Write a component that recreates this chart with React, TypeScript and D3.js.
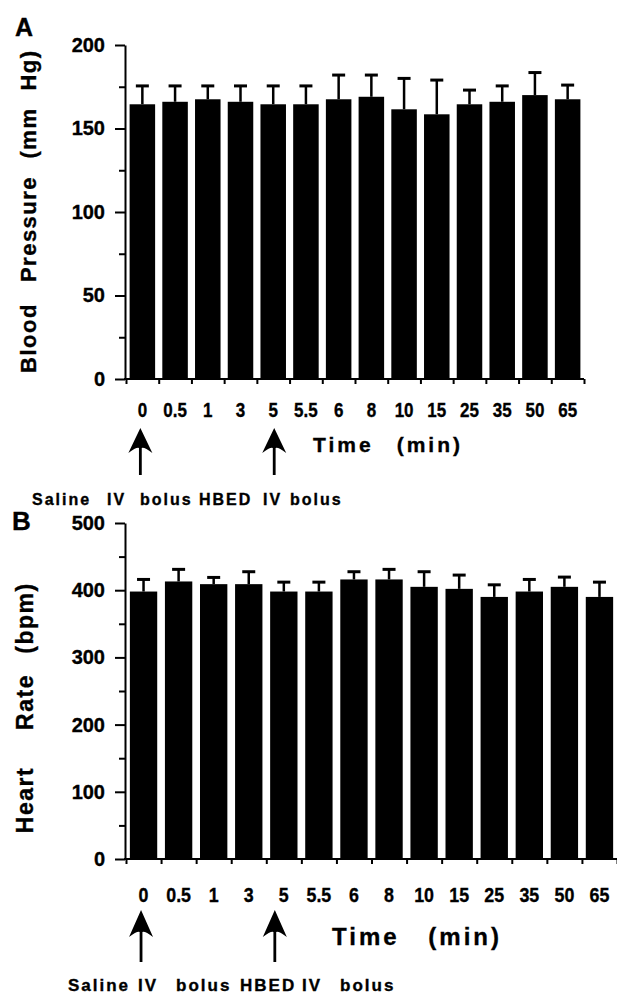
import * as d3 from 'd3'
import { useEffect, useRef } from 'react'

// time points (min) and readings
const times = ['0', '0.5', '1', '3', '5', '5.5', '6', '8', '10', '15', '25', '35', '50', '65']
const bpMean = [164.5, 166, 167.5, 166, 164.5, 164.5, 167.5, 169, 161.5, 158.5, 164.5, 166, 170, 167.5]
const bpErr = [11, 9.5, 8, 9.5, 11, 11, 14.5, 13, 18.5, 20.5, 8.5, 9.5, 13.5, 8.5]
const hrMean = [398, 413, 409, 409, 398, 398, 416, 416, 405, 402, 390, 398, 405, 390]
const hrErr = [18, 18, 10, 18.5, 14, 14, 11.5, 15, 22.5, 20.5, 18, 18, 14.5, 22]
const bpTicks = [0, 50, 100, 150, 200]
const hrTicks = [0, 100, 200, 300, 400, 500]
const noteWords = ['Saline', 'IV', 'bolus', 'HBED', 'IV', 'bolus']

const FONT = '"Liberation Sans", Arial, Helvetica, sans-serif'

const panels = [
    {
        letter: 'A', letterX: 15, letterY: 36, letterSize: 25,
        means: bpMean, errs: bpErr, ticks: bpTicks, minor: 25,
        yRange: [379, 45], xRange: [126, 584], yTickSize: 20,
        yTitle: [['Blood', 338], ['Pressure', 229], ['(mm', 133], ['Hg)', 70]], yTitleX: 36, yTitleSize: 22,
        xLabelY: 417, xLabelSize: 20,
        xTitleY: 452, xTitleStart: 313, xTitleEnd: 463, xTitleSize: 21,
        arrows: [['0', -2], ['5', 1]], arrowTop: 428, arrowHead: 25, arrowBottom: 475,
        noteX: [32, 107, 140, 199, 263, 290], noteY: 505, noteSize: 16,
    },
    {
        letter: 'B', letterX: 12, letterY: 530, letterSize: 26,
        means: hrMean, errs: hrErr, ticks: hrTicks, minor: 50,
        yRange: [859, 523], xRange: [126, 617], yTickSize: 20,
        yTitle: [['Heart', 800], ['Rate', 702], ['(bpm)', 618]], yTitleX: 33, yTitleSize: 23,
        xLabelY: 902, xLabelSize: 21,
        xTitleY: 945, xTitleStart: 332, xTitleEnd: 502, xTitleSize: 24,
        arrows: [['0', -2.5], ['5', -9]], arrowTop: 910, arrowHead: 27, arrowBottom: 962,
        noteX: [68, 138, 176, 240, 302, 340], noteY: 991, noteSize: 17,
    },
]

function boldText(sel: any, size: number) {
    return sel
        .attr('fill', '#000')
        .attr('stroke', '#000')
        .attr('stroke-width', 0.35)
        .style('font', `bold ${size}px ${FONT}`)
}

function drawPanel(svg: any, p: any) {
    const g = svg.append('g')
    const x = d3.scaleBand().domain(times).range(p.xRange).paddingInner(0.22).paddingOuter(0.11)
    const y = d3.scaleLinear().domain([p.ticks[0], p.ticks[p.ticks.length - 1]]).range(p.yRange)

    // bars
    g.append('g').selectAll('rect')
        .data(p.means)
        .join('rect')
        .attr('x', (d, i) => x(times[i]))
        .attr('y', d => y(d))
        .attr('width', x.bandwidth())
        .attr('height', d => y(0) - y(d))
        .attr('fill', '#000')

    // error bars (upper only)
    const eb = g.append('g').selectAll('g').data(p.means).join('g')
    eb.append('line')
        .attr('x1', (d, i) => x(times[i]) + x.bandwidth() / 2)
        .attr('x2', (d, i) => x(times[i]) + x.bandwidth() / 2)
        .attr('y1', d => y(d))
        .attr('y2', (d, i) => y(d + p.errs[i]))
        .attr('stroke', '#000').attr('stroke-width', 2.5)
    eb.append('line')
        .attr('x1', (d, i) => x(times[i]) + x.bandwidth() / 2 - 6.5)
        .attr('x2', (d, i) => x(times[i]) + x.bandwidth() / 2 + 6.5)
        .attr('y1', (d, i) => y(d + p.errs[i]))
        .attr('y2', (d, i) => y(d + p.errs[i]))
        .attr('stroke', '#000').attr('stroke-width', 3)

    // y axis, major + minor ticks
    const x0 = p.xRange[0] - 1
    const minorTicks = d3.range(y.domain()[0], y.domain()[1] + 1, p.minor).filter(v => !p.ticks.includes(v))
    g.append('g')
        .attr('transform', `translate(${x0},0)`)
        .call(d3.axisLeft(y).tickValues(minorTicks).tickSize(6).tickSizeOuter(0).tickFormat(() => ''))
        .call(a => a.select('.domain').remove())
        .call(a => a.selectAll('line').attr('stroke-width', 2))
    g.append('g')
        .attr('transform', `translate(${x0},0)`)
        .call(d3.axisLeft(y).tickValues(p.ticks).tickSize(10).tickSizeOuter(0).tickPadding(10))
        .call(a => a.select('.domain').attr('stroke-width', 2))
        .call(a => a.selectAll('line').attr('stroke-width', 2))
        .call(a => boldText(a.selectAll('text'), p.yTickSize))

    // x axis: ticks at band boundaries
    const edge = d3.scaleLinear().domain([0, times.length]).range(p.xRange)
    g.append('g')
        .attr('transform', `translate(0,${y(0)})`)
        .call(d3.axisBottom(edge).tickValues(d3.range(times.length + 1)).tickSize(5).tickSizeOuter(0).tickFormat(() => ''))
        .call(a => a.select('.domain').attr('stroke-width', 2).attr('d', `M${x0 - 1},0H${p.xRange[1]}`))
        .call(a => a.selectAll('line').attr('stroke-width', 2))

    g.append('g').selectAll('text')
        .data(times)
        .join('text')
        .attr('transform', d => `translate(${x(d) + x.bandwidth() / 2},${p.xLabelY}) scale(0.85,1)`)
        .attr('text-anchor', 'middle')
        .call(s => boldText(s, p.xLabelSize))
        .text(d => d)

    // axis titles
    g.append('g').selectAll('text')
        .data(p.yTitle)
        .join('text')
        .attr('transform', d => `translate(${p.yTitleX},${d[1]}) rotate(-90)`)
        .attr('text-anchor', 'middle')
        .attr('letter-spacing', 1.5)
        .call(s => boldText(s, p.yTitleSize))
        .text(d => d[0])

    g.append('text')
        .attr('x', p.xTitleStart).attr('y', p.xTitleY)
        .attr('letter-spacing', 3)
        .call(s => boldText(s, p.xTitleSize))
        .text('Time')
    g.append('text')
        .attr('x', p.xTitleEnd).attr('y', p.xTitleY)
        .attr('text-anchor', 'end')
        .attr('letter-spacing', 3)
        .call(s => boldText(s, p.xTitleSize))
        .text('(min)')

    // arrows marking the two boluses
    const h = p.arrowHead, t = p.arrowTop, b = p.arrowBottom, hw = 12, sw = 1.4
    g.append('g').selectAll('path')
        .data(p.arrows)
        .join('path')
        .attr('d', d => {
            const cx = x(d[0]) + x.bandwidth() / 2 + d[1]
            return `M${cx},${t}L${cx + hw},${t + h}Q${cx + 4},${t + h - 6} ${cx + sw},${t + h - 5}` +
                `L${cx + sw},${b}L${cx - sw},${b}L${cx - sw},${t + h - 5}Q${cx - 4},${t + h - 6} ${cx - hw},${t + h}Z`
        })
        .attr('fill', '#000')

    g.append('g').selectAll('text')
        .data(noteWords)
        .join('text')
        .attr('x', (d, i) => p.noteX[i])
        .attr('y', p.noteY)
        .attr('letter-spacing', 2)
        .call(s => boldText(s, p.noteSize))
        .text(d => d)

    g.append('text')
        .attr('x', p.letterX).attr('y', p.letterY)
        .call(s => boldText(s, p.letterSize))
        .text(p.letter)
}

export default function App() {
    const svgRef = useRef(null)

    useEffect(() => {
        const svg = d3.select(svgRef.current)
        svg.selectAll('*').remove()
        panels.forEach(p => drawPanel(svg, p))
    }, [])

    return (
        <svg ref={svgRef} width={617} height={994}
            style={{ position: 'absolute', left: 0, top: 0, background: '#fff' }} />
    )
}
